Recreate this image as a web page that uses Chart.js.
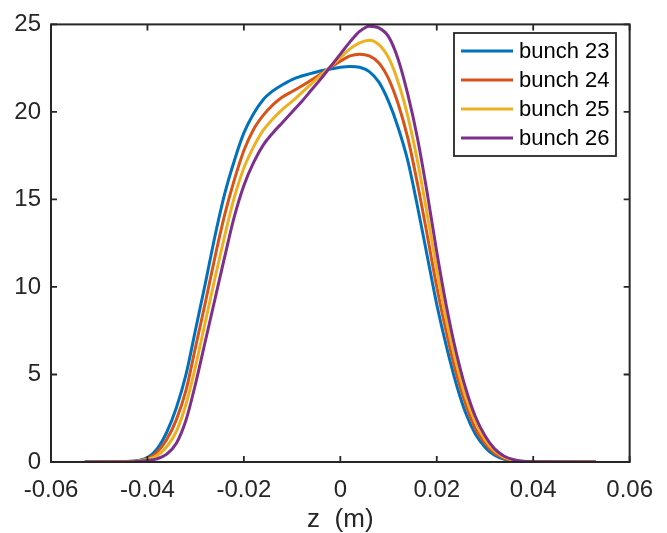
<!DOCTYPE html>
<html>
<head>
<meta charset="utf-8">
<script src="https://cdn.jsdelivr.net/npm/chart.js@4.4.1/dist/chart.umd.min.js"></script>
<style>
  html, body { margin: 0; padding: 0; background: #fff; }
  #wrap { width: 667px; height: 533px; }
</style>
</head>
<body>
<div id="wrap"><canvas id="bunchChart" width="667" height="533"></canvas></div>
<script>
// z positions (m) shared by all bunches
var zGrid = [-0.053, -0.046, -0.042, -0.040, -0.038, -0.036, -0.034, -0.032, -0.030, -0.028,
    -0.026, -0.024, -0.022, -0.020, -0.018, -0.016, -0.014, -0.012, -0.010, -0.008,
    -0.006, -0.004, -0.002, 0, 0.002, 0.004, 0.006, 0.008, 0.010, 0.012,
    0.014, 0.016, 0.018, 0.020, 0.022, 0.024, 0.026, 0.028, 0.030, 0.032,
    0.034, 0.036, 0.038, 0.042, 0.053];

var bunch23 = [0, 0.01, 0.08, 0.25, 0.75, 1.7, 3.1, 5.0, 7.6, 10.2,
    12.9, 15.3, 17.2, 18.8, 19.9, 20.7, 21.2, 21.55, 21.85, 22.05,
    22.2, 22.35, 22.45, 22.55, 22.6, 22.55, 22.3, 21.7, 20.6, 19.1,
    17.2, 14.6, 11.8, 9.0, 6.6, 4.5, 2.8, 1.6, 0.85, 0.38,
    0.15, 0.05, 0.01, 0, 0];

var bunch24 = [0, 0.01, 0.06, 0.19, 0.56, 1.28, 2.42, 4.1, 6.6, 9.1,
    11.7, 14.1, 16.1, 17.8, 19.0, 19.8, 20.4, 20.85, 21.17, 21.48,
    21.82, 22.18, 22.55, 22.9, 23.2, 23.3, 23.2, 22.8, 21.9, 20.45,
    18.5, 15.9, 13.0, 10.0, 7.4, 5.1, 3.3, 1.9, 1.07, 0.5,
    0.21, 0.08, 0.02, 0, 0];

var bunch25 = [0, 0, 0.05, 0.14, 0.37, 0.87, 1.75, 3.3, 5.5, 8.0,
    10.5, 12.9, 15.1, 16.8, 18.0, 18.95, 19.6, 20.15, 20.6, 21.1,
    21.6, 22.1, 22.6, 23.1, 23.6, 23.95, 24.1, 23.85, 23.1, 21.7,
    19.75, 17.2, 14.2, 11.0, 8.1, 5.7, 3.7, 2.3, 1.28, 0.63,
    0.27, 0.1, 0.03, 0.01, 0];

var bunch26 = [0, 0, 0.03, 0.08, 0.18, 0.45, 1.07, 2.4, 4.5, 6.9,
    9.3, 11.7, 14.0, 15.8, 17.1, 18.1, 18.8, 19.4, 20.0, 20.6,
    21.25, 21.9, 22.6, 23.3, 24.0, 24.6, 24.9, 24.8, 24.3, 23.0,
    21.0, 18.5, 15.4, 12.0, 8.9, 6.3, 4.2, 2.6, 1.5, 0.75,
    0.33, 0.13, 0.04, 0.01, 0];

var seriesNames = ['bunch 23', 'bunch 24', 'bunch 25', 'bunch 26'];
var seriesColors = ['#0072BD', '#D95319', '#EDB120', '#7E2F8E'];
var xTicks = [-0.06, -0.04, -0.02, 0, 0.02, 0.04, 0.06];
var yTicks = [0, 5, 10, 15, 20, 25];

var axisColor = '#262626';
var fontName = '"Liberation Sans", Arial, Helvetica, sans-serif';

function toPoints(ys) {
    return zGrid.map(function(z, i) { return {x: z, y: ys[i]}; });
}

var allSeries = [bunch23, bunch24, bunch25, bunch26];
var datasets = allSeries.map(function(ys, i) {
    return {
        label: seriesNames[i],
        data: toPoints(ys),
        borderColor: seriesColors[i],
        backgroundColor: seriesColors[i],
        borderWidth: 3,
        pointRadius: 0,
        fill: false,
        cubicInterpolationMode: 'monotone',
        order: allSeries.length - i   // last bunch drawn on top
    };
});

// box around the axes + ticks pointing inward, like matlab
var boxPlugin = {
    id: 'boxPlugin',
    afterDatasetsDraw: function(chart) {
        var ctx = chart.ctx;
        var a = chart.chartArea;
        var xs = chart.scales.x, ys = chart.scales.y;
        var tl = 6;
        ctx.save();
        ctx.strokeStyle = axisColor;
        ctx.lineWidth = 1.8;
        ctx.beginPath();
        xTicks.forEach(function(v) {
            var px = xs.getPixelForValue(v);
            ctx.moveTo(px, a.bottom); ctx.lineTo(px, a.bottom - tl);
            ctx.moveTo(px, a.top); ctx.lineTo(px, a.top + tl);
        });
        yTicks.forEach(function(v) {
            var py = ys.getPixelForValue(v);
            ctx.moveTo(a.left, py); ctx.lineTo(a.left + tl, py);
            ctx.moveTo(a.right, py); ctx.lineTo(a.right - tl, py);
        });
        ctx.stroke();
        ctx.lineWidth = 2;
        ctx.strokeRect(a.left, a.top, a.right - a.left, a.bottom - a.top);

        // legend box, top right inside the axes
        var lx = 454, ly = 33, lw = 162, lh = 123;
        ctx.fillStyle = '#fff';
        ctx.fillRect(lx, ly, lw, lh);
        ctx.lineWidth = 1.8;
        ctx.strokeRect(lx, ly, lw, lh);
        ctx.font = '22px ' + fontName;
        ctx.textBaseline = 'middle';
        chart.data.datasets.forEach(function(ds, i) {
            var rowY = ly + 18 + i * 29;
            ctx.strokeStyle = ds.borderColor;
            ctx.lineWidth = 3;
            ctx.beginPath();
            ctx.moveTo(lx + 7, rowY);
            ctx.lineTo(lx + 59, rowY);
            ctx.stroke();
            ctx.fillStyle = '#000';
            ctx.fillText(ds.label, lx + 65, rowY + 1);
        });
        ctx.restore();
    }
};

var ctx = document.getElementById('bunchChart').getContext('2d');
var myChart = new Chart(ctx, {
    type: 'line',
    data: { datasets: datasets },
    options: {
        responsive: false,
        animation: false,
        layout: { padding: { top: 20, right: 36, left: 0, bottom: 0 } },
        plugins: {
            legend: { display: false },
            tooltip: { enabled: false }
        },
        scales: {
            x: {
                type: 'linear',
                min: -0.06,
                max: 0.06,
                afterFit: function(scale) { scale.height = 71; },
                afterBuildTicks: function(scale) {
                    scale.ticks = xTicks.map(function(v) { return {value: v}; });
                },
                grid: { display: false, drawTicks: false },
                border: { display: false },
                ticks: {
                    padding: 14,
                    color: axisColor,
                    font: { family: fontName, size: 24 },
                    maxRotation: 0,
                    callback: function(v) {
                        var r = Math.round(v * 100) / 100;
                        return r === 0 ? '0' : r.toFixed(2);
                    }
                },
                title: {
                    display: true,
                    text: 'z  (m)',
                    color: axisColor,
                    font: { family: fontName, size: 26 },
                    padding: { top: 0, bottom: -2 }
                }
            },
            y: {
                min: 0,
                max: 25,
                afterFit: function(scale) { scale.width = 51; },
                afterBuildTicks: function(scale) {
                    scale.ticks = yTicks.map(function(v) { return {value: v}; });
                },
                grid: { display: false, drawTicks: false },
                border: { display: false },
                ticks: {
                    padding: 10,
                    color: axisColor,
                    font: { family: fontName, size: 24 }
                }
            }
        }
    },
    plugins: [boxPlugin]
});
</script>
</body>
</html>
